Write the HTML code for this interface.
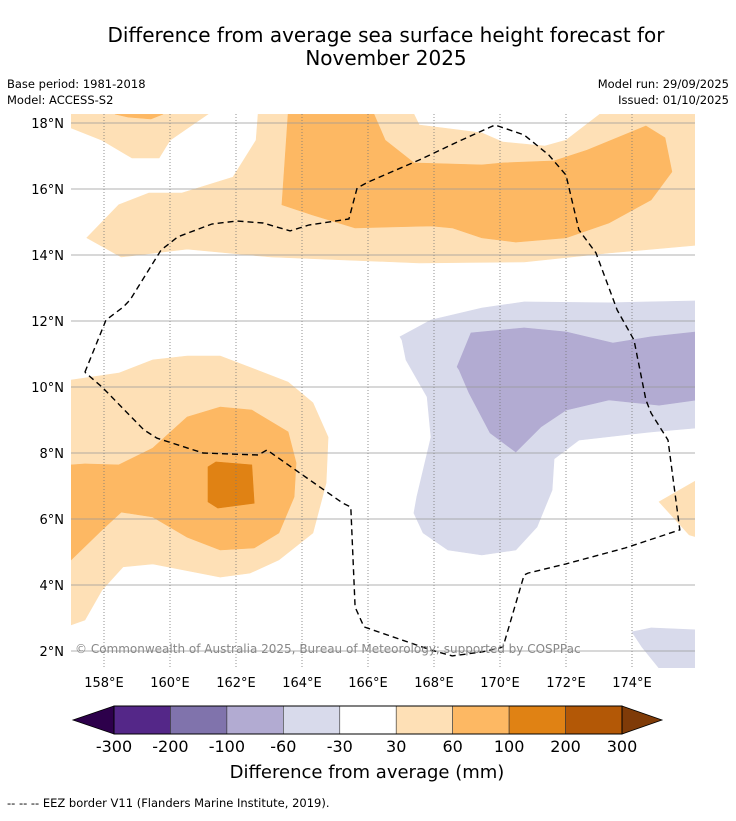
<!DOCTYPE html>
<html><head><meta charset="utf-8">
<style>
html,body{margin:0;padding:0;background:#fff;}
body{width:736px;height:816px;overflow:hidden;font-family:"Liberation Sans","DejaVu Sans",sans-serif;}
svg text{font-family:"DejaVu Sans","Liberation Sans",sans-serif;}
</style></head>
<body>
<svg id="chart" width="736" height="816" viewBox="0 0 736 816" xmlns="http://www.w3.org/2000/svg">
  <text x="386" y="42" font-size="20" text-anchor="middle" fill="#000">Difference from average sea surface height forecast for</text>
  <text x="386" y="65" font-size="20" text-anchor="middle" fill="#000">November 2025</text>
  <text x="7" y="88" font-size="11.5">Base period: 1981-2018</text>
  <text x="7" y="104" font-size="11.5">Model: ACCESS-S2</text>
  <text x="729" y="88" font-size="11.5" text-anchor="end">Model run: 29/09/2025</text>
  <text x="729" y="104" font-size="11.5" text-anchor="end">Issued: 01/10/2025</text>
  <defs><clipPath id="mapclip"><rect x="71" y="114" width="624" height="554"/></clipPath></defs>
  <g id="map" clip-path="url(#mapclip)"></g>
  <g id="axes"></g>
  <g id="cbar"></g>
  <text x="367" y="778" font-size="18" text-anchor="middle">Difference from average (mm)</text>
  <text x="7" y="807" font-size="11.5">--  --  -- EEZ border V11 (Flanders Marine Institute, 2019).</text>
</svg>
<script>
// ---- data ----
const lonTicks = [158,160,162,164,166,168,170,172,174];
const latTicks = [2,4,6,8,10,12,14,16,18];
const levels = [-300,-200,-100,-60,-30,30,60,100,200,300];
const levelColors = ["#542788","#8073ac","#b2abd2","#d8daeb","#ffffff","#fee0b6","#fdb863","#e08214","#b35806"];
const extendLow = "#2d004b", extendHigh = "#7f3b08";
// contour polygons in [lon, lat]
const light1 = [[157.0,18.27],[157.0,17.85],[157.94,17.48],[158.85,16.94],[159.67,16.94],[160.0,17.48],[161.15,18.27]];
const med1 = [[158.33,18.27],[158.73,18.18],[159.42,18.12],[159.79,18.27]];
const light2 = [[162.67,18.27],[162.61,17.48],[161.91,16.36],[160.36,15.88],[159.36,15.88],[158.45,15.52],[157.48,14.52],[158.52,13.94],[160.52,14.18],[163.06,13.94],[167.55,13.76],[170.73,13.79],[173.30,14.06],[175.97,14.30],[175.97,18.27],[173.03,18.27],[172.0,17.48],[171.36,17.30],[170.09,17.42],[169.45,17.70],[167.55,17.94],[167.39,18.27]];
const med2 = [[163.58,18.27],[163.39,15.52],[164.33,15.21],[165.61,14.82],[167.91,14.88],[168.55,14.82],[169.45,14.52],[170.48,14.39],[172.0,14.52],[173.30,14.97],[174.58,15.67],[175.21,16.52],[175.0,17.55],[174.42,17.91],[172.64,17.18],[171.64,16.85],[170.09,16.79],[169.45,16.73],[167.39,16.79],[166.52,17.48],[166.18,18.27]];
const light3 = [[157.0,10.21],[158.45,10.42],[159.48,10.82],[160.52,10.94],[161.52,10.94],[163.58,10.15],[164.33,9.52],[164.79,8.48],[164.73,7.09],[164.33,5.58],[163.30,4.76],[162.42,4.36],[161.52,4.24],[159.48,4.64],[158.58,4.55],[157.94,3.85],[157.42,2.94],[157.0,2.79]];
const med3 = [[157.0,7.64],[157.42,7.67],[158.45,7.64],[159.48,8.15],[160.52,9.09],[161.52,9.39],[162.48,9.30],[163.58,8.64],[163.82,7.70],[163.76,6.67],[163.30,5.58],[162.55,5.12],[161.52,5.06],[160.52,5.45],[159.48,6.06],[158.52,6.21],[157.94,5.67],[157.0,4.76]];
const dark3 = [[161.15,7.58],[161.39,7.73],[162.48,7.64],[162.55,6.48],[161.45,6.33],[161.15,6.52]];
const light4 = [[175.73,5.52],[174.82,6.52],[175.97,7.18],[175.97,5.45]];
const purp1 = [[166.97,11.52],[167.91,12.03],[169.45,12.39],[170.73,12.58],[173.30,12.55],[175.97,12.61],[175.97,8.76],[174.58,8.64],[172.39,8.39],[171.64,7.82],[171.58,6.88],[171.12,5.76],[170.48,5.06],[169.45,4.91],[168.42,5.06],[167.67,5.58],[167.39,6.18],[167.48,6.67],[167.91,8.48],[167.79,9.70],[167.15,10.82],[167.03,11.42]];
const purp2 = [[169.12,11.64],[170.73,11.79],[172.0,11.67],[173.42,11.33],[174.58,11.52],[175.97,11.67],[175.97,9.61],[174.82,9.45],[173.30,9.61],[172.0,9.30],[171.24,8.79],[170.48,8.03],[169.70,8.61],[169.06,9.82],[168.76,10.52],[168.70,10.61]];
const purp3 = [[174.0,2.58],[174.58,2.70],[175.97,2.64],[175.97,1.48],[174.82,1.48],[174.30,2.12]];
const eez = [[157.42,10.45],[158.06,12.03],[158.58,12.42],[158.79,12.64],[159.73,14.15],[160.24,14.55],[161.27,14.94],[162.03,15.03],[162.82,14.97],[163.64,14.73],[164.21,14.91],[165.42,15.09],[165.67,16.03],[166.0,16.21],[167.55,16.88],[168.82,17.48],[169.85,17.94],[170.73,17.64],[171.48,17.03],[172.0,16.42],[172.39,14.76],[172.91,14.06],[173.55,12.33],[173.94,11.64],[174.06,11.42],[174.42,9.61],[174.58,9.21],[175.09,8.39],[175.45,5.67],[173.79,5.12],[172.0,4.64],[170.85,4.36],[170.73,4.30],[170.09,2.12],[169.45,1.97],[168.55,1.85],[167.91,2.03],[165.88,2.73],[165.61,3.33],[165.48,6.36],[165.24,6.48],[162.94,8.09],[162.67,7.94],[161.0,8.0],[159.61,8.45],[159.21,8.70],[157.94,10.0],[157.42,10.45]];
// ---- axis functions ----
function lonX(lon){ return 104 + (lon-158)*33; }
function latY(lat){ return 123 + (18-lat)*33; }
const NS="http://www.w3.org/2000/svg";
function mk(tag, attrs, parent){ const e=document.createElementNS(NS,tag); for(const k in attrs) e.setAttribute(k,attrs[k]); parent.appendChild(e); return e; }
const map=document.getElementById('map');
function poly(pts, color, name){
  const d = pts.map((p,i)=>(i?'L':'M')+lonX(p[0]).toFixed(1)+','+latY(p[1]).toFixed(1)).join(' ')+'Z';
  const e = mk('path',{d:d,fill:color,stroke:color,'stroke-width':'0.6'},map);
  
  
}
poly(light1, levelColors[5], 'contour-30-60-nw');
poly(med1, levelColors[6], 'contour-60-100-nw');
poly(light2, levelColors[5], 'contour-30-60-north');
poly(med2, levelColors[6], 'contour-60-100-north');
poly(light3, levelColors[5], 'contour-30-60-west');
poly(med3, levelColors[6], 'contour-60-100-west');
poly(dark3, levelColors[7], 'contour-100-200-west');
poly(light4, levelColors[5], 'contour-30-60-east');
poly(purp1, levelColors[3], 'contour-minus60-minus30');
poly(purp2, levelColors[2], 'contour-minus100-minus60');
poly(purp3, levelColors[3], 'contour-minus60-minus30-se');
// gridlines
lonTicks.forEach(l=>{ const e=mk('line',{x1:lonX(l),x2:lonX(l),y1:114,y2:668,stroke:'#777','stroke-width':'0.8','stroke-dasharray':'1,2'},map);
    });
latTicks.forEach(l=>{ const e=mk('line',{x1:71,x2:695,y1:latY(l),y2:latY(l),stroke:'#999','stroke-width':'0.7'},map);
    });
// eez
const eezPath = mk('path',{d:eez.map((p,i)=>(i?'L':'M')+lonX(p[0]).toFixed(1)+','+latY(p[1]).toFixed(1)).join(' '),fill:'none',stroke:'#000','stroke-width':'1.4','stroke-dasharray':'6,4'},map);


// copyright
const cp = mk('text',{x:75,y:653,'font-size':'12',fill:'#888'},map);
cp.textContent='© Commonwealth of Australia 2025, Bureau of Meteorology; supported by COSPPac';


// axis labels
const axes=document.getElementById('axes');
latTicks.forEach(l=>{ const t=mk('text',{x:64,y:latY(l)+5,'font-size':'13','text-anchor':'end'},axes); t.textContent=l+'°N';
    });
lonTicks.forEach(l=>{ const t=mk('text',{x:lonX(l),y:687,'font-size':'13','text-anchor':'middle'},axes); t.textContent=l+'°E';
    });
// colorbar
const cb=document.getElementById('cbar');
const cx0=114, cx1=622, cy0=706, cy1=734;
const bw=(cx1-cx0)/levelColors.length;
const lo=mk('polygon',{points:`${cx0},${cy0} 73,${(cy0+cy1)/2} ${cx0},${cy1}`,fill:extendLow,stroke:'#000','stroke-width':'0.8'},cb);
 
const hi=mk('polygon',{points:`${cx1},${cy0} 662,${(cy0+cy1)/2} ${cx1},${cy1}`,fill:extendHigh,stroke:'#000','stroke-width':'0.8'},cb);
 
levelColors.forEach((c,i)=>{ const r=mk('rect',{x:cx0+i*bw,y:cy0,width:bw,height:cy1-cy0,fill:c,stroke:'#333','stroke-width':'0.6'},cb);
    });
mk('rect',{x:cx0,y:cy0,width:cx1-cx0,height:cy1-cy0,fill:'none',stroke:'#000','stroke-width':'1'},cb);
levels.forEach((v,i)=>{ const t=mk('text',{x:cx0+i*bw,y:752,'font-size':'16','text-anchor':'middle'},cb); t.textContent=v;
    });
</script>
</body></html>
